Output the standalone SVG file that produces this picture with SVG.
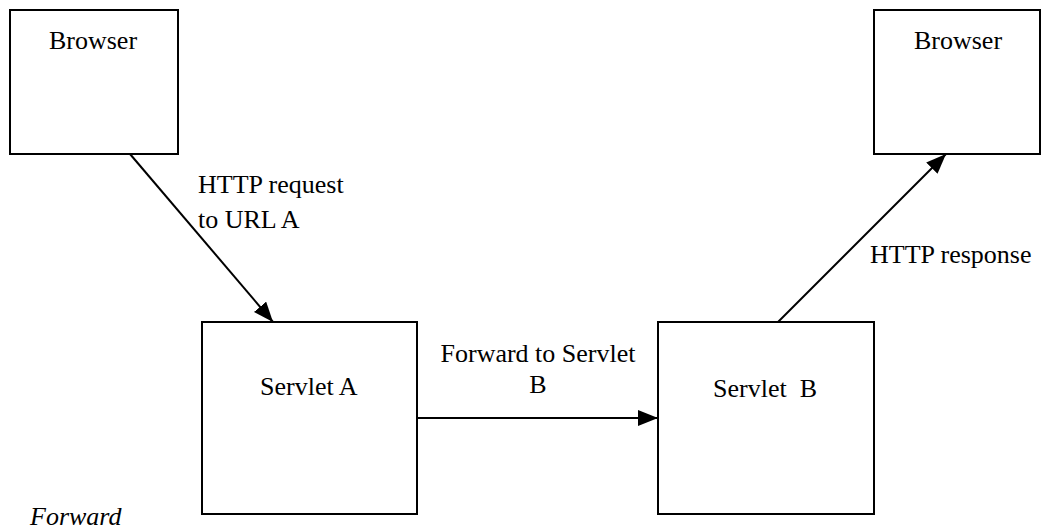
<svg xmlns="http://www.w3.org/2000/svg" width="1041" height="530" viewBox="0 0 1041 530">
<style>
.box{fill:#fff;stroke:#000;stroke-width:2}
text{font-family:'Liberation Serif','Times New Roman',serif;font-size:26px;fill:#000}
.c{stroke:#000;stroke-width:2;fill:none}
</style>
<defs>
<marker id="ah" viewBox="0 0 20 16" refX="20" refY="8" markerWidth="20" markerHeight="16" markerUnits="userSpaceOnUse" orient="auto">
<path d="M0,0 L20,8 L0,16 z" fill="#000"/>
</marker>
</defs>
<rect width="1041" height="530" fill="#fff"/>
<g id="browser-left">
<rect class="box" x="10" y="10" width="168" height="144"/>
<text x="93" y="49" text-anchor="middle">Browser</text>
</g>
<g id="browser-right">
<rect class="box" x="874" y="10" width="166" height="144"/>
<text x="958" y="49" text-anchor="middle">Browser</text>
</g>
<g id="servlet-a">
<rect class="box" x="202" y="322" width="215" height="192"/>
<text x="260" y="395">Servlet A</text>
</g>
<g id="servlet-b">
<rect class="box" x="658" y="322" width="216" height="192"/>
<text x="713" y="397" xml:space="preserve">Servlet  B</text>
</g>
<g id="connectors">
<line class="c" x1="130" y1="154" x2="273" y2="322" marker-end="url(#ah)"/>
<line class="c" x1="417" y1="418" x2="658" y2="418" marker-end="url(#ah)"/>
<line class="c" x1="778" y1="322" x2="946" y2="154" marker-end="url(#ah)"/>
<text x="198" y="193">HTTP request</text>
<text x="198" y="228">to URL A</text>
<text x="538" y="362" text-anchor="middle">Forward to Servlet</text>
<text x="538" y="393" text-anchor="middle">B</text>
<text x="870" y="263">HTTP response</text>
</g>
<text x="30" y="525" font-style="italic">Forward</text>
</svg>
